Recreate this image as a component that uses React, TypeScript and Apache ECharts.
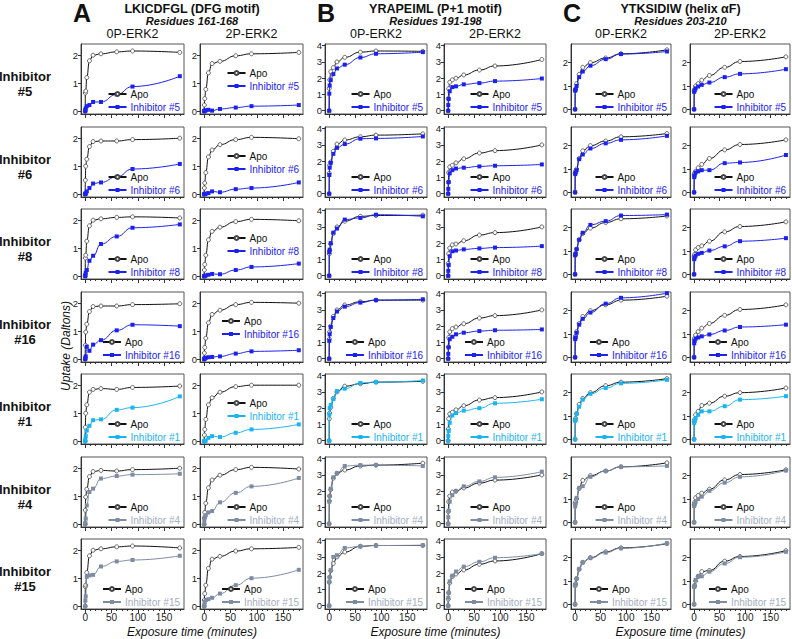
import React, { useEffect, useRef } from 'react';
import * as echarts from 'echarts';

const times = [0, 0.25, 1, 3, 8, 15, 30, 60, 90, 180];
const rowInhibitors = ['#5', '#6', '#8', '#16', '#1', '#4', '#15'];
const xTickValues = [0, 50, 100, 150];
const xMinorTickValues = [0, 10, 20, 30, 40, 50, 60, 70, 80, 90, 100, 110, 120, 130, 140, 150, 160, 170, 180];
const yTicksA = [0, 1, 2];
const yTicksB = [0, 1, 2, 3, 4];
const yTicksC = [0, 1, 2];
const columnStates = ['0P-ERK2', '2P-ERK2'];
const peptideTitles = ['LKICDFGL (DFG motif)', 'YRAPEIML (P+1 motif)', 'YTKSIDIW (helix αF)'];
const peptideResidues = ['Residues 161-168', 'Residues 191-198', 'Residues 203-210'];
const panelLetters = ['A', 'B', 'C'];

// LKICDFGL (A)
const aApo0P = [
  [0, 0.65, 0.72, 1.2, 1.8, 2.0, 2.05, 2.12, 2.15, 2.1],
  [0, 0.5, 1.0, 1.25, 1.7, 1.88, 1.9, 1.9, 1.95, 2.0],
  [0, 0.65, 0.75, 1.25, 1.8, 2.0, 2.05, 2.1, 2.12, 2.08],
  [0, 0.5, 0.97, 1.25, 1.7, 1.88, 1.9, 1.9, 1.95, 1.98],
  [0, 0.5, 1.0, 1.3, 1.75, 1.85, 1.88, 1.85, 1.92, 1.97],
  [0, 0.5, 0.97, 1.25, 1.7, 1.88, 1.92, 1.9, 1.95, 2.0],
  [0, 0.7, 0.75, 1.2, 1.8, 2.0, 2.05, 2.12, 2.15, 2.08],
];
const aInh0P = [
  [0, 0.05, 0.1, 0.18, 0.22, 0.33, 0.33, 0.6, 0.88, 1.25],
  [0, 0.02, 0.03, 0.1, 0.22, 0.38, 0.42, 0.62, 0.9, 1.08],
  [0, 0.05, 0.12, 0.22, 0.55, 0.73, 1.15, 1.42, 1.73, 1.85],
  [0, 0.05, 0.1, 0.45, 0.3, 0.52, 0.68, 1.03, 1.23, 1.18],
  [0, 0.05, 0.18, 0.38, 0.55, 0.75, 0.78, 1.12, 1.2, 1.6],
  [0, 0.05, 0.2, 0.67, 1.15, 1.27, 1.63, 1.72, 1.77, 1.8],
  [0, 0.2, 0.35, 1.05, 1.1, 1.12, 1.42, 1.6, 1.65, 1.8],
];
const aApo2P = [
  [0, 0.22, 0.45, 0.78, 1.37, 1.7, 1.78, 1.98, 2.05, 2.1],
  [0, 0.22, 0.4, 0.77, 1.33, 1.58, 1.77, 1.95, 2.03, 1.98],
  [0, 0.22, 0.42, 0.75, 1.3, 1.6, 1.75, 1.95, 2.03, 1.98],
  [0, 0.22, 0.42, 0.75, 1.3, 1.6, 1.75, 1.95, 2.03, 2.0],
  [0, 0.22, 0.42, 0.78, 1.3, 1.55, 1.75, 1.95, 2.0, 2.0],
  [0, 0.22, 0.42, 0.75, 1.3, 1.58, 1.75, 1.95, 2.03, 1.97],
  [0, 0.22, 0.45, 0.75, 1.35, 1.68, 1.78, 1.97, 2.05, 2.1],
];
const aInh2P = [
  [0, 0.0, 0.02, 0.03, 0.05, 0.02, 0.08, 0.13, 0.18, 0.22],
  [0, 0.0, 0.01, 0.02, 0.04, 0.1, 0.07, 0.18, 0.22, 0.42],
  [0, 0.0, 0.01, 0.03, 0.05, 0.08, 0.07, 0.22, 0.33, 0.45],
  [0, 0.02, 0.03, 0.05, 0.07, 0.08, 0.1, 0.2, 0.28, 0.32],
  [0, 0.0, 0.0, 0.02, 0.12, 0.18, 0.15, 0.3, 0.42, 0.6],
  [0, 0.15, 0.25, 0.32, 0.42, 0.47, 0.78, 1.12, 1.35, 1.65],
  [0, 0.05, 0.15, 0.22, 0.25, 0.3, 0.45, 0.75, 1.0, 1.3],
];

// YRAPEIML (B)
const bApo0P = [
  [0, 1.37, 1.9, 2.4, 2.65, 3.0, 3.28, 3.6, 3.67, 3.65],
  [0, 1.25, 1.75, 1.95, 2.6, 3.05, 3.3, 3.5, 3.6, 3.68],
  [0, 1.35, 1.55, 1.95, 2.6, 3.0, 3.35, 3.65, 3.7, 3.72],
  [0, 1.2, 1.65, 2.0, 2.6, 3.0, 3.3, 3.5, 3.6, 3.6],
  [0, 1.35, 1.7, 2.05, 2.6, 3.0, 3.35, 3.5, 3.6, 3.65],
  [0, 1.4, 1.7, 2.1, 2.8, 3.1, 3.3, 3.55, 3.6, 3.72],
  [0, 1.45, 1.75, 2.15, 2.6, 3.0, 3.3, 3.65, 3.7, 3.7],
];
const bInh0P = [
  [0, 1.05, 1.55, 1.88, 2.25, 2.6, 2.83, 3.27, 3.5, 3.6],
  [0, 1.15, 1.6, 1.9, 2.45, 2.82, 3.05, 3.38, 3.4, 3.52],
  [0, 1.45, 1.6, 2.0, 2.65, 2.9, 3.45, 3.55, 3.75, 3.65],
  [0, 1.1, 1.5, 1.95, 2.5, 2.9, 3.2, 3.45, 3.6, 3.65],
  [0, 1.6, 2.0, 2.2, 2.55, 3.05, 3.2, 3.55, 3.6, 3.7],
  [0, 1.35, 1.7, 2.15, 2.85, 3.1, 3.55, 3.6, 3.6, 3.55],
  [0, 1.45, 1.75, 2.2, 3.0, 3.1, 3.55, 3.65, 3.7, 3.72],
];
const bApo2P = [
  [0, 0.75, 1.35, 1.75, 1.9, 2.0, 2.2, 2.5, 2.75, 3.15],
  [0, 0.7, 1.3, 1.65, 1.75, 1.9, 2.15, 2.5, 2.65, 3.0],
  [0, 0.75, 1.35, 1.7, 1.9, 1.95, 2.15, 2.5, 2.65, 3.0],
  [0, 0.72, 1.3, 1.65, 1.85, 1.95, 2.15, 2.5, 2.65, 3.0],
  [0, 0.72, 1.35, 1.65, 1.75, 1.9, 2.15, 2.5, 2.65, 3.0],
  [0, 0.75, 1.35, 1.7, 1.95, 2.0, 2.2, 2.5, 2.68, 3.0],
  [0, 0.4, 0.8, 1.4, 1.8, 1.95, 2.2, 2.55, 2.75, 3.2],
];
const bInh2P = [
  [0, 0.35, 0.72, 1.2, 1.45, 1.5, 1.62, 1.7, 1.82, 1.98],
  [0, 0.3, 0.72, 1.25, 1.45, 1.55, 1.6, 1.68, 1.72, 1.8],
  [0, 0.3, 0.65, 1.2, 1.5, 1.55, 1.62, 1.68, 1.73, 1.82],
  [0, 0.3, 0.7, 1.2, 1.35, 1.5, 1.6, 1.7, 1.75, 1.8],
  [0, 0.3, 0.6, 1.1, 1.55, 1.7, 1.85, 2.0, 2.3, 2.55],
  [0, 0.4, 0.8, 1.35, 1.75, 2.0, 2.3, 2.6, 2.85, 3.2],
  [0, 0.5, 0.8, 1.5, 1.85, 2.1, 2.4, 2.7, 2.95, 3.2],
];

// YTKSIDIW (C)
const cApo0P = [
  [0, 0.82, 0.88, 1.1, 1.5, 1.8, 2.0, 2.2, 2.38, 2.55],
  [0, 0.82, 0.9, 1.0, 1.45, 1.78, 2.0, 2.2, 2.38, 2.52],
  [0, 0.82, 0.9, 1.08, 1.48, 1.75, 1.98, 2.22, 2.38, 2.5],
  [0, 0.82, 0.92, 1.1, 1.45, 1.75, 2.0, 2.25, 2.45, 2.62],
  [0, 0.82, 0.9, 1.1, 1.5, 1.75, 2.0, 2.3, 2.45, 2.6],
  [0, 0.8, 0.88, 1.0, 1.45, 1.8, 2.0, 2.2, 2.38, 2.55],
  [0, 0.82, 0.88, 1.1, 1.5, 1.8, 2.0, 2.25, 2.42, 2.6],
];
const cInh0P = [
  [0, 0.8, 0.85, 1.0, 1.38, 1.62, 1.87, 2.15, 2.37, 2.48],
  [0, 0.78, 0.85, 0.95, 1.42, 1.62, 1.88, 2.1, 2.25, 2.42],
  [0, 0.82, 0.88, 1.08, 1.48, 1.78, 2.12, 2.28, 2.52, 2.56],
  [0, 0.78, 0.85, 1.05, 1.4, 1.65, 1.92, 2.3, 2.55, 2.75],
  [0, 0.8, 0.85, 1.1, 1.4, 1.7, 1.95, 2.2, 2.4, 2.55],
  [0, 0.68, 0.8, 1.05, 1.48, 1.55, 1.95, 2.2, 2.38, 2.42],
  [0, 0.8, 0.85, 1.1, 1.52, 1.8, 1.98, 2.22, 2.4, 2.62],
];
const cApo2P = [
  [0, 0.78, 0.85, 1.0, 1.1, 1.25, 1.45, 1.8, 2.05, 2.25],
  [0, 0.75, 0.82, 0.9, 1.05, 1.2, 1.45, 1.82, 2.05, 2.25],
  [0, 0.78, 0.85, 1.05, 1.15, 1.22, 1.42, 1.82, 2.05, 2.25],
  [0, 0.75, 0.82, 0.95, 1.1, 1.25, 1.45, 1.8, 2.05, 2.25],
  [0, 0.75, 0.85, 1.05, 1.2, 1.45, 1.55, 1.85, 2.0, 2.2],
  [0, 0.75, 0.85, 1.05, 1.15, 1.25, 1.42, 1.82, 2.05, 2.25],
  [0, 0.75, 0.8, 1.0, 1.2, 1.4, 1.45, 1.85, 2.05, 2.3],
];
const cInh2P = [
  [0, 0.75, 0.82, 0.9, 0.98, 1.05, 1.15, 1.38, 1.52, 1.72],
  [0, 0.65, 0.72, 0.85, 0.9, 0.95, 0.95, 1.25, 1.28, 1.6],
  [0, 0.65, 0.72, 0.8, 0.88, 0.92, 1.02, 1.2, 1.42, 1.55],
  [0, 0.6, 0.7, 0.8, 0.85, 0.9, 0.98, 1.15, 1.3, 1.4],
  [0, 0.7, 0.78, 0.9, 1.05, 1.2, 1.2, 1.42, 1.7, 1.85],
  [0, 0.7, 0.78, 0.88, 1.0, 1.1, 1.35, 1.7, 1.95, 2.22],
  [0, 0.75, 0.8, 1.05, 1.2, 1.2, 1.4, 1.75, 2.02, 2.25],
];

const BLUE = '#1c22ee';
const CYAN = '#1ab4f2';
const GRAY = '#7d8ca2';
const GRAY_TEXT = '#a3aec0';
const rowColors = [BLUE, BLUE, BLUE, BLUE, CYAN, GRAY, GRAY];
const rowTextColors = [BLUE, BLUE, BLUE, BLUE, CYAN, GRAY_TEXT, GRAY_TEXT];

const FONT = 'Liberation Sans, Arial, Helvetica, sans-serif';

const W = 792;
const H = 639;
const panelLefts = [81, 200, 325, 444, 571, 690];
const panelWidths = [103, 103, 102, 102, 100, 100];
const panelTop0 = 44;
const rowPitch = 82.5;
const panelHeight = 70;

function buildOption() {
  const columns = [
    { apo: aApo0P, inh: aInh0P, range: [-0.1, 2.4], ticks: yTicksA },
    { apo: aApo2P, inh: aInh2P, range: [-0.1, 2.4], ticks: yTicksA },
    { apo: bApo0P, inh: bInh0P, range: [-0.2, 4.1], ticks: yTicksB },
    { apo: bApo2P, inh: bInh2P, range: [-0.2, 4.1], ticks: yTicksB },
    { apo: cApo0P, inh: cInh0P, range: [-0.2, 2.8], ticks: yTicksC },
    { apo: cApo2P, inh: cInh2P, range: [-0.2, 2.8], ticks: yTicksC },
  ];
  const grid: any[] = [];
  const xAxis: any[] = [];
  const yAxis: any[] = [];
  const series: any[] = [];
  const legend: any[] = [];
  const graphic: any[] = [];

  for (let r = 0; r < 7; r++) {
    const top = Math.round(panelTop0 + r * rowPitch);
    const inhName = 'Inhibitor ' + rowInhibitors[r];
    for (let c = 0; c < 6; c++) {
      const p = r * 6 + c;
      const col = columns[c];
      grid.push({
        left: panelLefts[c],
        top,
        width: panelWidths[c],
        height: panelHeight,
        show: true,
        borderColor: '#555',
        borderWidth: 1,
        backgroundColor: 'transparent',
      });
      xAxis.push({
        type: 'value',
        gridIndex: p,
        min: -8,
        max: 188,
        position: 'bottom',
        axisLine: { onZero: false, lineStyle: { color: '#333', width: 1 } },
        axisTick: { show: true, customValues: xTickValues, length: 4, lineStyle: { color: '#333' } },
        axisLabel: {
          show: r === 6,
          customValues: xTickValues,
          fontSize: 10,
          color: '#222',
          margin: 3,
          fontFamily: FONT,
        },
        splitLine: { show: false },
      });
      xAxis.push({
        type: 'value',
        gridIndex: p,
        min: -8,
        max: 188,
        position: 'bottom',
        axisLine: { show: false, onZero: false },
        axisTick: { show: true, customValues: xMinorTickValues, length: 2, lineStyle: { color: '#333' } },
        axisLabel: { show: false },
        splitLine: { show: false },
      });
      yAxis.push({
        type: 'value',
        gridIndex: p,
        min: col.range[0],
        max: col.range[1],
        axisLine: { show: true, onZero: false, lineStyle: { color: '#333', width: 1 } },
        axisTick: { show: true, customValues: col.ticks, length: 3, lineStyle: { color: '#333' } },
        axisLabel: {
          customValues: col.ticks,
          fontSize: 9.5,
          color: '#222',
          margin: 3,
          fontFamily: FONT,
        },
        splitLine: { show: false },
      });
      const apoData = times.map((t, i) => [t, col.apo[r][i]]);
      const inhData = times.map((t, i) => [t, col.inh[r][i]]);
      series.push({
        type: 'line',
        name: 'Apo',
        xAxisIndex: 2 * p,
        yAxisIndex: p,
        data: apoData,
        smooth: 0.5,
        smoothMonotone: 'x',
        symbol: 'circle',
        symbolSize: 4,
        showAllSymbol: true,
        lineStyle: { color: '#111', width: 1 },
        itemStyle: { color: '#fff', borderColor: '#444', borderWidth: 0.8 },
        z: 2,
      });
      series.push({
        type: 'line',
        name: inhName,
        xAxisIndex: 2 * p,
        yAxisIndex: p,
        data: inhData,
        smooth: 0.5,
        smoothMonotone: 'x',
        symbol: 'rect',
        symbolSize: 4,
        showAllSymbol: true,
        lineStyle: { color: rowColors[r], width: 1 },
        itemStyle: { color: rowColors[r] },
        z: 3,
      });
      const raise = c === 1 && r <= 4 ? 21 : 0;
      const frameRight = panelLefts[c] + panelWidths[c];
      legend.push({
        orient: 'vertical',
        right: W - frameRight + 4,
        bottom: H - (top + panelHeight) + 2 + raise,
        itemWidth: 18,
        itemHeight: 5,
        itemGap: 3,
        padding: 0,
        selectedMode: false,
        textStyle: { fontSize: 10, fontFamily: FONT, padding: [0, 0, 0, -1] },
        data: [
          { name: 'Apo', textStyle: { color: '#111' } },
          { name: inhName, textStyle: { color: rowTextColors[r] } },
        ],
      });
    }
    graphic.push({
      type: 'text',
      x: 25,
      y: top + 40,
      style: {
        text: 'Inhibitor\n' + rowInhibitors[r],
        fontSize: 13,
        fontWeight: 'bold',
        fontFamily: FONT,
        fill: '#111',
        align: 'center',
        verticalAlign: 'middle',
        lineHeight: 15,
      },
    });
  }

  for (let g = 0; g < 3; g++) {
    const left = panelLefts[2 * g];
    const right = panelLefts[2 * g + 1] + panelWidths[2 * g + 1];
    const center = (left + right) / 2;
    graphic.push({
      type: 'text',
      x: center,
      y: 9,
      style: { text: peptideTitles[g], fontSize: 12.5, fontWeight: 'bold', fontFamily: FONT, fill: '#111', align: 'center', verticalAlign: 'middle' },
    });
    graphic.push({
      type: 'text',
      x: center,
      y: 21,
      style: { text: peptideResidues[g], fontSize: 11, fontWeight: 'bold', fontStyle: 'italic', fontFamily: FONT, fill: '#111', align: 'center', verticalAlign: 'middle' },
    });
    graphic.push({
      type: 'text',
      x: [82, 326, 572][g],
      y: 13,
      style: { text: panelLetters[g], fontSize: 25, fontWeight: 'bold', fontFamily: FONT, fill: '#111', align: 'center', verticalAlign: 'middle' },
    });
    graphic.push({
      type: 'text',
      x: center,
      y: 632,
      style: { text: 'Exposure time (minutes)', fontSize: 12, fontStyle: 'italic', fontFamily: FONT, fill: '#111', align: 'center', verticalAlign: 'middle' },
    });
    for (let k = 0; k < 2; k++) {
      const c = 2 * g + k;
      graphic.push({
        type: 'text',
        x: panelLefts[c] + panelWidths[c] / 2,
        y: 34,
        style: { text: columnStates[k], fontSize: 12.5, fontFamily: FONT, fill: '#111', align: 'center', verticalAlign: 'middle' },
      });
    }
  }
  graphic.push({
    type: 'text',
    x: 66,
    y: 346,
    rotation: Math.PI / 2,
    style: { text: 'Uptake (Daltons)', fontSize: 12, fontStyle: 'italic', fontFamily: FONT, fill: '#111', align: 'center', verticalAlign: 'middle' },
  });

  return {
    animation: false,
    backgroundColor: '#fff',
    grid,
    xAxis,
    yAxis,
    series,
    legend,
    graphic,
  };
}

export default function App() {
  const ref = useRef<HTMLDivElement>(null);
  useEffect(() => {
    if (!ref.current) return;
    const chart = echarts.init(ref.current, undefined, { renderer: 'svg' });
    chart.setOption(buildOption() as any);
    return () => chart.dispose();
  }, []);
  return (
    <div
      ref={ref}
      style={{ position: 'absolute', left: 0, top: 0, width: W, height: H }}
    />
  );
}
